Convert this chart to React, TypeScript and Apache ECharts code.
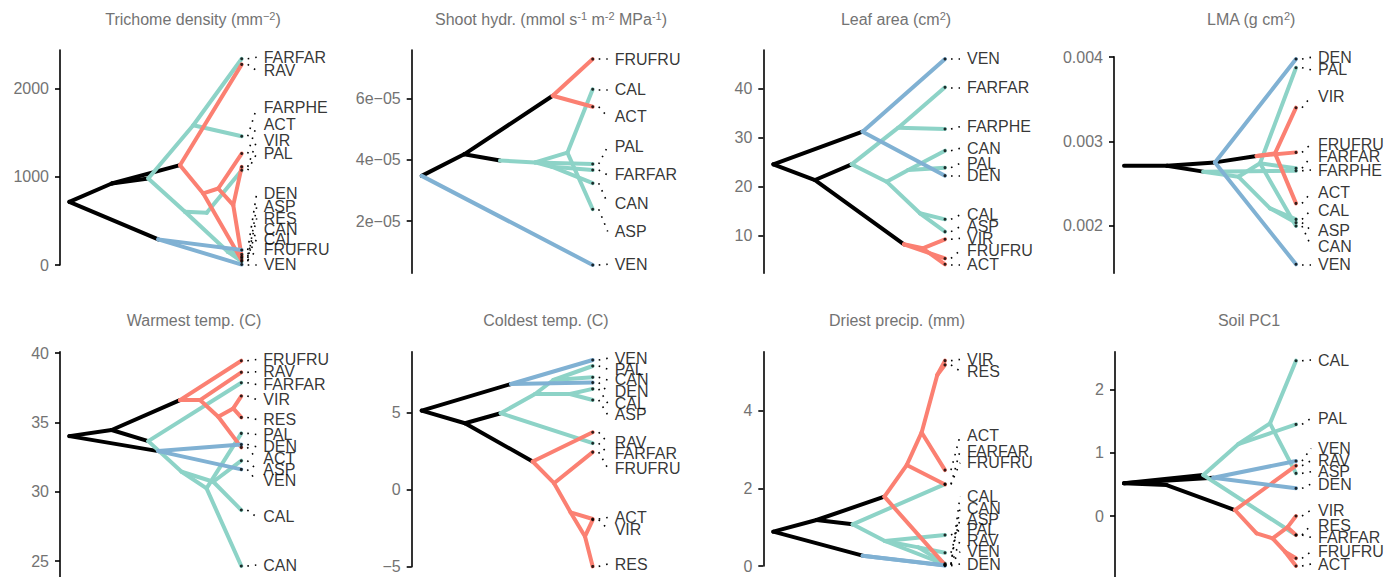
import React, { useEffect, useRef } from "react";
import * as echarts from "echarts";

type Edge = [number, number | string, string];

const TEAL = "#8dd3c7";
const RED = "#fb8072";
const BLUE = "#80b1d3";
const BLACK = "#000000";
const FONT = "'Liberation Sans', Arial, Helvetica, sans-serif";

// ---------- Panel 1: Trichome density ----------
const trichTips = ["FARFAR", "RAV", "FARPHE", "ACT", "VIR", "PAL", "DEN", "ASP", "RES", "CAN", "CAL", "FRUFRU", "VEN"];
const trichTipValues = [2335, 2271, 1458, 1262, 1111, 1073, 169, 40, 95, 80, 120, 55, 5];
const trichLabelValues = [2351, 2200, 1781, 1585, 1404, 1260, 811, 660, 528, 404, 291, 170, 8];
const trichNodeTimes = [0, 0.246, 0.458, 0.642, 0.516, 0.719, 0.671, 0.797, 0.777, 0.864, 0.951, 0.92];
const trichNodeValues = [715, 923, 980, 1130, 290, 1582, 603, 591, 810, 866, 678, 150];
const trichEdges: Edge[] = [
  [0, 1, "k"], [1, 2, "k"], [1, 3, "k"], [0, 4, "k"],
  [2, 5, "t"], [5, "FARFAR", "t"], [5, "FARPHE", "t"], [2, 6, "t"], [6, 7, "t"], [7, "PAL", "t"],
  [6, 11, "t"], [11, "CAN", "t"], [11, "ASP", "t"], [11, "CAL", "t"],
  [3, "RAV", "r"], [3, 8, "r"], [8, "FRUFRU", "r"], [8, 9, "r"], [9, "ACT", "r"], [9, 10, "r"],
  [10, "VIR", "r"], [10, "RES", "r"],
  [4, "DEN", "b"], [4, "VEN", "b"],
];
const trichTicks = [0, 1000, 2000];

// ---------- Panel 2: Shoot hydraulic conductance ----------
const hydrTips = ["FRUFRU", "CAL", "ACT", "PAL", "FARFAR", "CAN", "ASP", "VEN"];
const hydrTipValues = [7.3e-5, 6.31e-5, 5.74e-5, 3.87e-5, 3.67e-5, 3.24e-5, 2.39e-5, 0.567e-5];
const hydrLabelValues = [7.3e-5, 6.31e-5, 5.41e-5, 4.44e-5, 3.51e-5, 2.58e-5, 1.66e-5, 0.59e-5];
const hydrNodeTimes = [0, 0.248, 0.766, 0.458, 0.663, 0.852, 0.76];
const hydrNodeValues = [3.48e-5, 4.185e-5, 6.1e-5, 3.98e-5, 3.92e-5, 4.24e-5, 3.78e-5];
const hydrEdges: Edge[] = [
  [0, 1, "k"], [1, 2, "k"], [1, 3, "k"],
  [2, "FRUFRU", "r"], [2, "ACT", "r"],
  [3, 4, "t"], [4, "PAL", "t"], [4, 6, "t"], [6, "FARFAR", "t"], [6, "CAN", "t"],
  [4, 5, "t"], [5, "CAL", "t"], [5, "ASP", "t"],
  [0, "VEN", "b"],
];
const hydrTicks = [2e-5, 4e-5, 6e-5];

// ---------- Panel 3: Leaf area ----------
const areaTips = ["VEN", "FARFAR", "FARPHE", "CAN", "PAL", "DEN", "CAL", "ASP", "VIR", "FRUFRU", "ACT"];
const areaTipValues = [46.09, 40.29, 31.77, 27.34, 23.87, 22.23, 13.3, 10.78, 9.21, 5.3, 4.1];
const areaLabelValues = [46.09, 40.29, 32.25, 27.82, 24.75, 22.23, 14.19, 11.8, 9.41, 6.89, 4.1];
const areaNodeTimes = [0, 0.243, 0.52, 0.456, 0.761, 0.87, 0.728, 0.66, 0.786, 0.854];
const areaNodeValues = [24.55, 21.34, 31.23, 24.55, 8.19, 7.37, 32.05, 21.0, 23.39, 14.53];
const areaEdges: Edge[] = [
  [0, 1, "k"], [0, 2, "k"], [1, 3, "k"], [1, 4, "k"],
  [3, 6, "t"], [6, "FARFAR", "t"], [6, "FARPHE", "t"], [3, 7, "t"], [7, 8, "t"], [8, "CAN", "t"],
  [8, "PAL", "t"], [7, 9, "t"], [9, "CAL", "t"], [9, "ASP", "t"],
  [4, 5, "r"], [5, "VIR", "r"], [5, "ACT", "r"], [4, "FRUFRU", "r"],
  [2, "VEN", "b"], [2, "DEN", "b"],
];
const areaTicks = [10, 20, 30, 40];

// ---------- Panel 4: LMA ----------
const lmaTips = ["DEN", "PAL", "VIR", "FRUFRU", "FARFAR", "FARPHE", "ACT", "CAL", "ASP", "CAN", "VEN"];
const lmaTipValues = [0.003978, 0.003875, 0.0034, 0.002869, 0.00268, 0.002651, 0.002263, 0.002073, 0.002034, 0.001994, 0.001539];
const lmaLabelValues = [0.003998, 0.00385, 0.00353, 0.002968, 0.002818, 0.002659, 0.00239, 0.002184, 0.001945, 0.001756, 0.001539];
const lmaNodeTimes = [0, 0.25, 0.461, 0.529, 0.771, 0.878, 0.665, 0.791, 0.849];
const lmaNodeValues = [0.002711, 0.00271, 0.00264, 0.00275, 0.002826, 0.002857, 0.00258, 0.002739, 0.002204];
const lmaEdges: Edge[] = [
  [0, 1, "k"], [1, 2, "k"], [1, 3, "k"], [3, 4, "k"],
  [2, "FARPHE", "t"], [2, 6, "t"], [6, 7, "t"], [7, "PAL", "t"], [7, "FARFAR", "t"], [7, "CAN", "t"],
  [6, 8, "t"], [8, "CAL", "t"], [8, "ASP", "t"],
  [4, 5, "r"], [5, "VIR", "r"], [5, "ACT", "r"], [4, "FRUFRU", "r"],
  [3, "DEN", "b"], [3, "VEN", "b"],
];
const lmaTicks = [0.002, 0.003, 0.004];

// ---------- Panel 5: Warmest temperature ----------
const warmTips = ["FRUFRU", "RAV", "FARFAR", "VIR", "RES", "PAL", "DEN", "ACT", "ASP", "VEN", "CAL", "CAN"];
const warmTipValues = [39.45, 38.61, 37.86, 36.9, 35.36, 34.21, 33.41, 33.2, 32.24, 31.61, 28.68, 24.64];
const warmLabelValues = [39.54, 38.65, 37.74, 36.66, 35.22, 34.13, 33.25, 32.4, 31.63, 30.79, 28.2, 24.71];
const warmNodeTimes = [0, 0.246, 0.459, 0.643, 0.517, 0.653, 0.798, 0.837, 0.76, 0.866, 0.953];
const warmNodeValues = [34.01, 34.45, 33.65, 36.61, 32.93, 31.44, 30.24, 30.72, 36.61, 35.41, 36.01];
const warmEdges: Edge[] = [
  [0, 1, "k"], [1, 2, "k"], [1, 3, "k"], [0, 4, "k"],
  [2, "FARFAR", "t"], [2, 5, "t"], [5, 6, "t"], [6, "PAL", "t"], [6, "CAN", "t"], [5, 7, "t"],
  [7, "ASP", "t"], [7, "CAL", "t"],
  [3, "FRUFRU", "r"], [3, 8, "r"], [8, "RAV", "r"], [8, 9, "r"], [9, 10, "r"], [10, "VIR", "r"],
  [10, "RES", "r"], [9, "ACT", "r"],
  [4, "DEN", "b"], [4, "VEN", "b"],
];
const warmTicks = [25, 30, 35, 40];

// ---------- Panel 6: Coldest temperature ----------
const coldTips = ["VEN", "PAL", "CAN", "DEN", "CAL", "ASP", "RAV", "FARFAR", "FRUFRU", "ACT", "VIR", "RES"];
const coldTipValues = [8.44, 8.05, 7.32, 6.97, 6.56, 5.84, 3.74, 3.03, 2.45, -1.9, -1.95, -4.98];
const coldLabelValues = [8.55, 7.84, 7.14, 6.39, 5.63, 4.87, 3.07, 2.34, 1.41, -1.8, -2.55, -4.83];
const coldNodeTimes = [0, 0.253, 0.522, 0.462, 0.649, 0.663, 0.77, 0.867, 0.774, 0.871, 0.955];
const coldNodeValues = [5.15, 4.33, 6.88, 4.98, 1.84, 6.23, 7.14, 6.23, 0.43, -1.47, -3.03];
const coldEdges: Edge[] = [
  [0, 1, "k"], [0, 2, "k"], [1, 3, "k"], [1, 4, "k"],
  [3, "FARFAR", "t"], [3, 5, "t"], [5, 6, "t"], [6, "PAL", "t"], [6, "CAN", "t"], [5, 7, "t"],
  [7, "CAL", "t"], [7, "ASP", "t"],
  [4, "RAV", "r"], [4, 8, "r"], [8, "FRUFRU", "r"], [8, 9, "r"], [9, "ACT", "r"], [9, 10, "r"],
  [10, "VIR", "r"], [10, "RES", "r"],
  [2, "VEN", "b"], [2, "DEN", "b"],
];
const coldTicks = [-5, 0, 5];

// ---------- Panel 7: Driest precipitation ----------
const dryTips = ["VIR", "RES", "ACT", "FARFAR", "FRUFRU", "CAL", "CAN", "ASP", "PAL", "RAV", "VEN", "DEN"];
const dryTipValues = [5.29, 5.18, 2.47, 2.11, 2.1, 0.04, 0.06, 0.34, 0.8, 0.03, 0.02, 0.01];
const dryLabelValues = [5.32, 5.02, 3.35, 2.96, 2.66, 1.79, 1.49, 1.2, 0.93, 0.65, 0.37, 0.05];
const dryNodeTimes = [0, 0.252, 0.462, 0.647, 0.52, 0.777, 0.864, 0.955, 0.65, 0.845];
const dryNodeValues = [0.884, 1.185, 1.073, 1.785, 0.266, 2.6, 3.44, 4.92, 0.644, 0.48];
const dryEdges: Edge[] = [
  [0, 1, "k"], [1, 2, "k"], [1, 3, "k"], [0, 4, "k"],
  [2, "FARFAR", "t"], [2, 8, "t"], [8, "PAL", "t"], [8, 9, "t"], [9, "ASP", "t"], [9, "CAN", "t"],
  [8, "CAL", "t"],
  [3, 5, "r"], [5, 6, "r"], [6, 7, "r"], [7, "VIR", "r"], [7, "RES", "r"], [6, "ACT", "r"],
  [5, "FRUFRU", "r"], [3, "RAV", "r"],
  [4, "DEN", "b"], [4, "VEN", "b"],
];
const dryTicks = [0, 2, 4];

// ---------- Panel 8: Soil PC1 ----------
const soilTips = ["CAL", "PAL", "VEN", "RAV", "ASP", "DEN", "VIR", "RES", "FARFAR", "FRUFRU", "ACT"];
const soilTipValues = [2.453, 1.447, 0.868, 0.795, 0.674, 0.437, 0.0, -0.3, -0.3, -0.668, -0.789];
const soilLabelValues = [2.463, 1.542, 1.068, 0.874, 0.7, 0.505, 0.095, -0.142, -0.337, -0.563, -0.758];
const soilNodeTimes = [0, 0.248, 0.461, 0.519, 0.645, 0.665, 0.849, 0.771, 0.864, 0.95, 0.936];
const soilNodeValues = [0.516, 0.489, 0.647, 0.605, 0.095, 1.137, 1.463, -0.274, -0.353, -0.179, -0.563];
const soilEdges: Edge[] = [
  [0, 1, "k"], [1, 4, "k"], [0, 2, "k"], [0, 3, "k"],
  [2, 5, "t"], [5, 6, "t"], [6, "CAL", "t"], [6, "ASP", "t"], [5, "PAL", "t"], [2, "FARFAR", "t"],
  [4, "RAV", "r"], [4, 7, "r"], [7, 8, "r"], [8, 9, "r"], [9, "VIR", "r"], [9, "RES", "r"],
  [8, 10, "r"], [10, "FRUFRU", "r"], [10, "ACT", "r"],
  [3, "VEN", "b"], [3, "DEN", "b"],
];
const soilTicks = [0, 1, 2];

const minus = (s: string) => s.replace("-", "\u2212");

interface Panel {
  title: string;
  titleX: number;
  titleY: number;
  tips: string[];
  tipValues: number[];
  labelValues: number[];
  nodeTimes: number[];
  nodeValues: number[];
  edges: Edge[];
  ticks: number[];
  fmt: (v: number) => string;
  // layout (pixels)
  axisX: number;
  rootX: number;
  tipX: number;
  top: number;
  bottom: number;
  yMin: number;
  yMax: number;
}

const panels: Panel[] = [
  {
    title: "Trichome density (mm{sup|\u22122})", titleX: 193, titleY: 19,
    tips: trichTips, tipValues: trichTipValues, labelValues: trichLabelValues,
    nodeTimes: trichNodeTimes, nodeValues: trichNodeValues, edges: trichEdges, ticks: trichTicks,
    fmt: (v) => String(v),
    axisX: 60, rootX: 69.3, tipX: 241.7, top: 50, bottom: 265, yMin: 0, yMax: 2434,
  },
  {
    title: "Shoot hydr. (mmol s{sup|-1} m{sup|-2} MPa{sup|-1})", titleX: 551, titleY: 19,
    tips: hydrTips, tipValues: hydrTipValues, labelValues: hydrLabelValues,
    nodeTimes: hydrNodeTimes, nodeValues: hydrNodeValues, edges: hydrEdges, ticks: hydrTicks,
    fmt: (v) => Math.round(v * 1e5) + "e\u221205",
    axisX: 411.7, rootX: 421.7, tipX: 592.7, top: 50, bottom: 273.3, yMin: 0.294e-5, yMax: 7.597e-5,
  },
  {
    title: "Leaf area (cm{sup|2})", titleX: 896, titleY: 19,
    tips: areaTips, tipValues: areaTipValues, labelValues: areaLabelValues,
    nodeTimes: areaNodeTimes, nodeValues: areaNodeValues, edges: areaEdges, ticks: areaTicks,
    fmt: (v) => String(v),
    axisX: 763.3, rootX: 773.3, tipX: 945, top: 50, bottom: 273.3, yMin: 2.26, yMax: 47.93,
  },
  {
    title: "LMA (g cm{sup|2})", titleX: 1251, titleY: 19,
    tips: lmaTips, tipValues: lmaTipValues, labelValues: lmaLabelValues,
    nodeTimes: lmaNodeTimes, nodeValues: lmaNodeValues, edges: lmaEdges, ticks: lmaTicks,
    fmt: (v) => v.toFixed(3),
    axisX: 1114, rootX: 1124, tipX: 1296, top: 56.7, bottom: 273.3, yMin: 0.001432, yMax: 0.004006,
  },
  {
    title: "Warmest temp. (C)", titleX: 194, titleY: 320,
    tips: warmTips, tipValues: warmTipValues, labelValues: warmLabelValues,
    nodeTimes: warmNodeTimes, nodeValues: warmNodeValues, edges: warmEdges, ticks: warmTicks,
    fmt: (v) => String(v),
    axisX: 60, rootX: 69.3, tipX: 241.3, top: 351.7, bottom: 577, yMin: 23.85, yMax: 40.1,
  },
  {
    title: "Coldest temp. (C)", titleX: 546, titleY: 320,
    tips: coldTips, tipValues: coldTipValues, labelValues: coldLabelValues,
    nodeTimes: coldNodeTimes, nodeValues: coldNodeValues, edges: coldEdges, ticks: coldTicks,
    fmt: (v) => minus(String(v)),
    axisX: 411.7, rootX: 421.7, tipX: 592.7, top: 351.7, bottom: 566.7, yMin: -5, yMax: 8.98,
  },
  {
    title: "Driest precip. (mm)", titleX: 897, titleY: 320,
    tips: dryTips, tipValues: dryTipValues, labelValues: dryLabelValues,
    nodeTimes: dryNodeTimes, nodeValues: dryNodeValues, edges: dryEdges, ticks: dryTicks,
    fmt: (v) => String(v),
    axisX: 763.3, rootX: 773.3, tipX: 945, top: 351.7, bottom: 566, yMin: 0, yMax: 5.52,
  },
  {
    title: "Soil PC1", titleX: 1249, titleY: 320,
    tips: soilTips, tipValues: soilTipValues, labelValues: soilLabelValues,
    nodeTimes: soilNodeTimes, nodeValues: soilNodeValues, edges: soilEdges, ticks: soilTicks,
    fmt: (v) => String(v),
    axisX: 1115, rootX: 1124, tipX: 1296, top: 351.7, bottom: 577, yMin: -0.963, yMax: 2.595,
  },
];

const cladeColor: Record<string, string> = { k: BLACK, t: TEAL, r: RED, b: BLUE };
const cladeOrder = ["k", "t", "r", "b"];

function buildOption() {
  const grid: any[] = [];
  const xAxis: any[] = [];
  const yAxis: any[] = [];
  const series: any[] = [];
  const graphic: any[] = [];

  panels.forEach((p, gi) => {
    const span = p.tipX - p.rootX;
    const leaderEnd = 1 + 15 / span;
    grid.push({ left: p.rootX, top: p.top, width: span, height: p.bottom - p.top, containLabel: false });
    xAxis.push({ gridIndex: gi, type: "value", min: 0, max: 1, show: false });
    yAxis.push({
      gridIndex: gi,
      type: "value",
      min: p.yMin,
      max: p.yMax,
      offset: p.rootX - p.axisX,
      axisLine: { show: true, onZero: false, lineStyle: { color: "#000", width: 1.6 } },
      axisTick: { show: true, length: 5, customValues: p.ticks, lineStyle: { color: "#000", width: 1.6 } },
      axisLabel: {
        show: true,
        customValues: p.ticks,
        formatter: (v: number) => p.fmt(v),
        color: "#737373",
        fontSize: 16,
        fontFamily: FONT,
        margin: 11,
      },
      splitLine: { show: false },
    });

    const pos = (ref: number | string): [number, number] =>
      typeof ref === "number"
        ? [p.nodeTimes[ref], p.nodeValues[ref]]
        : [1, p.tipValues[p.tips.indexOf(ref)]];

    // leaders (dotted)
    series.push({
      type: "lines",
      coordinateSystem: "cartesian2d",
      xAxisIndex: gi,
      yAxisIndex: gi,
      clip: false,
      silent: true,
      z: 1,
      lineStyle: { color: "#000", width: 1.6, type: [1.6, 6], opacity: 1 },
      data: p.tips.map((_, i) => ({
        coords: [
          [1 + 6 / span, p.tipValues[i]],
          [leaderEnd, p.labelValues[i]],
        ],
      })),
    });

    cladeOrder.forEach((c, ci) => {
      series.push({
        type: "lines",
        coordinateSystem: "cartesian2d",
        xAxisIndex: gi,
        yAxisIndex: gi,
        clip: false,
        silent: true,
        z: 2 + ci,
        lineStyle: { color: cladeColor[c], width: 4, opacity: 1, cap: "round", join: "round" },
        data: p.edges
          .filter((e) => e[2] === c)
          .map((e) => ({ coords: [pos(e[0]), pos(e[1])] })),
      });
    });

    // tip dots
    series.push({
      type: "scatter",
      xAxisIndex: gi,
      yAxisIndex: gi,
      clip: false,
      silent: true,
      z: 8,
      symbolSize: 3,
      itemStyle: { color: "#000" },
      data: p.tips.map((_, i) => [1, p.tipValues[i]]),
    });

    // tip labels
    series.push({
      type: "scatter",
      xAxisIndex: gi,
      yAxisIndex: gi,
      clip: false,
      silent: true,
      z: 9,
      symbolSize: 0,
      itemStyle: { color: "transparent" },
      label: {
        show: true,
        position: "right",
        distance: 7,
        formatter: "{b}",
        color: "#000",
        fontSize: 16,
        fontFamily: FONT,
      },
      data: p.tips.map((name, i) => ({ name, value: [leaderEnd, p.labelValues[i]] })),
    });

    graphic.push({
      type: "text",
      x: p.titleX,
      y: p.titleY,
      silent: true,
      style: {
        text: p.title,
        fill: "#737373",
        fontSize: 16,
        fontFamily: FONT,
        align: "center",
        verticalAlign: "middle",
        rich: {
          sup: { fontSize: 11, fill: "#737373", fontFamily: FONT, verticalAlign: "top", padding: [0, 0, 6, 0] },
        },
      },
    });
  });

  return {
    animation: false,
    backgroundColor: "#ffffff",
    grid,
    xAxis,
    yAxis,
    series,
    graphic,
  };
}

export default function App() {
  const ref = useRef<HTMLDivElement>(null);
  useEffect(() => {
    document.body.style.margin = "0";
    const chart = echarts.init(ref.current!, null, { renderer: "svg" });
    chart.setOption(buildOption() as any);
    return () => chart.dispose();
  }, []);
  return <div ref={ref} style={{ width: 1400, height: 577 }} />;
}
